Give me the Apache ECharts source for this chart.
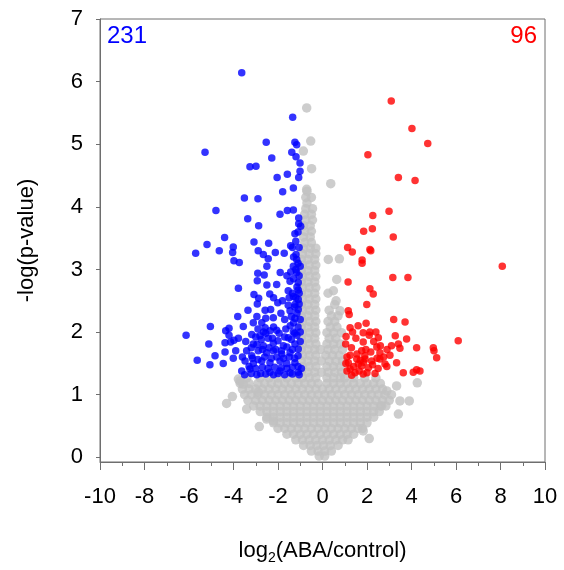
<!DOCTYPE html>
<html>
<head>
<meta charset="utf-8">
<script src="https://cdn.jsdelivr.net/npm/echarts@6/dist/echarts.min.js"></script>
<style>html,body{margin:0;padding:0;background:#fff}#c{width:564px;height:570px}</style>
</head>
<body>
<div id="c"></div>
<script>
// ---- data (log2 fold change, -log p) ----
const xTicks = [-10,-8,-6,-4,-2,0,2,4,6,8,10];
const yTicks = [0,1,2,3,4,5,6,7];
const countDown = "231";
const countUp = "96";

const grayPts = [
[-0.15,0.02],[0.1,0.02],
[-0.5,0.1],[-0.2,0.1],[0.1,0.1],[0.4,0.1],
[-0.85,0.19],[-0.55,0.19],[-0.25,0.19],[0.05,0.19],[0.35,0.19],[0.7,0.19],
[-1.2,0.28],[-0.9,0.28],[-0.6,0.28],[-0.3,0.28],[0.0,0.28],[0.3,0.28],[0.6,0.28],[0.9,0.28],[1.15,0.28],
[-1.6,0.37],[-1.3,0.37],[-1.0,0.37],[-0.7,0.37],[-0.4,0.37],[-0.1,0.37],[0.2,0.37],[0.5,0.37],[0.8,0.37],[1.1,0.37],[1.4,0.37],
[-2.0,0.46],[-1.7,0.46],[-1.4,0.46],[-1.1,0.46],[-0.8,0.46],[-0.5,0.46],[-0.2,0.46],[0.1,0.46],[0.4,0.46],[0.7,0.46],[1.0,0.46],[1.3,0.46],[1.6,0.46],[1.8,0.46],
[-2.2,0.55],[-1.9,0.55],[-1.6,0.55],[-1.3,0.55],[-1.0,0.55],[-0.7,0.55],[-0.4,0.55],[-0.1,0.55],[0.2,0.55],[0.5,0.55],[0.8,0.55],[1.1,0.55],[1.4,0.55],[1.7,0.55],[2.0,0.55],
[-2.5,0.64],[-2.2,0.64],[-1.9,0.64],[-1.6,0.64],[-1.3,0.64],[-1.0,0.64],[-0.7,0.64],[-0.4,0.64],[-0.1,0.64],[0.2,0.64],[0.5,0.64],[0.8,0.64],[1.1,0.64],[1.4,0.64],[1.7,0.64],[2.0,0.64],[2.3,0.64],
[-2.8,0.73],[-2.5,0.73],[-2.2,0.73],[-1.9,0.73],[-1.6,0.73],[-1.3,0.73],[-1.0,0.73],[-0.7,0.73],[-0.4,0.73],[-0.1,0.73],[0.2,0.73],[0.5,0.73],[0.8,0.73],[1.1,0.73],[1.4,0.73],[1.7,0.73],[2.0,0.73],[2.3,0.73],[2.55,0.73],
[-3.1,0.82],[-2.8,0.82],[-2.5,0.82],[-2.2,0.82],[-1.9,0.82],[-1.6,0.82],[-1.3,0.82],[-1.0,0.82],[-0.7,0.82],[-0.4,0.82],[-0.1,0.82],[0.2,0.82],[0.5,0.82],[0.8,0.82],[1.1,0.82],[1.4,0.82],[1.7,0.82],[2.0,0.82],[2.3,0.82],[2.6,0.82],[2.85,0.82],
[-3.35,0.91],[-3.0,0.91],[-2.7,0.91],[-2.4,0.91],[-2.1,0.91],[-1.8,0.91],[-1.5,0.91],[-1.2,0.91],[-0.9,0.91],[-0.6,0.91],[-0.3,0.91],[0.0,0.91],[0.3,0.91],[0.6,0.91],[0.9,0.91],[1.2,0.91],[1.5,0.91],[1.8,0.91],[2.1,0.91],[2.4,0.91],[2.7,0.91],[3.0,0.91],
[-3.5,1.0],[-3.2,1.0],[-2.9,1.0],[-2.6,1.0],[-2.3,1.0],[-2.0,1.0],[-1.7,1.0],[-1.4,1.0],[-1.1,1.0],[-0.8,1.0],[-0.5,1.0],[-0.2,1.0],[0.1,1.0],[0.4,1.0],[0.7,1.0],[1.0,1.0],[1.3,1.0],[1.6,1.0],[1.9,1.0],[2.2,1.0],[2.5,1.0],[2.8,1.0],[3.1,1.0],
[-3.6,1.09],[-3.3,1.09],[-3.0,1.09],[-2.7,1.09],[-2.4,1.09],[-2.1,1.09],[-1.8,1.09],[-1.5,1.09],[-1.2,1.09],[-0.9,1.09],[-0.6,1.09],[-0.3,1.09],[0.0,1.09],[0.3,1.09],[0.6,1.09],[0.9,1.09],[1.2,1.09],[1.5,1.09],[1.8,1.09],[2.1,1.09],[2.4,1.09],[2.7,1.09],
[-3.7,1.18],[-3.3,1.18],[-2.9,1.18],[-2.6,1.18],[-2.3,1.18],[-2.0,1.18],[-1.7,1.18],[-1.4,1.18],[-1.1,1.18],[-0.8,1.18],[-0.5,1.18],[-0.2,1.18],[0.2,1.18],[0.5,1.18],[0.8,1.18],[1.1,1.18],[1.4,1.18],[1.7,1.18],[2.0,1.18],[2.3,1.18],[2.6,1.18],
[-3.4,1.27],[-2.8,1.27],[-2.4,1.27],[-2.0,1.27],[-1.6,1.27],[-1.2,1.27],[-0.9,1.27],[-0.6,1.27],[-0.3,1.27],[0.2,1.27],[0.5,1.27],[0.8,1.27],[1.0,1.27],[1.4,1.27],[1.9,1.27],[2.4,1.27],
[-0.95,1.36],[-0.65,1.36],[-0.35,1.36],[-0.05,1.36],[0.25,1.36],[0.55,1.36],[0.85,1.36],
[-0.9,1.45],[-0.6,1.45],[-0.3,1.45],[0.2,1.45],[0.5,1.45],[0.8,1.45],
[-0.95,1.54],[-0.65,1.54],[-0.35,1.54],[-0.05,1.54],[0.3,1.54],[0.6,1.54],[0.9,1.54],
[-0.9,1.63],[-0.6,1.63],[-0.3,1.63],[0.15,1.63],[0.45,1.63],[0.75,1.63],
[-0.95,1.72],[-0.65,1.72],[-0.35,1.72],[-0.1,1.72],[0.25,1.72],[0.55,1.72],[0.9,1.72],
[-0.9,1.81],[-0.6,1.81],[-0.3,1.81],[0.2,1.81],[0.5,1.81],[0.8,1.81],
[-0.95,1.9],[-0.65,1.9],[-0.35,1.9],[0.3,1.9],[0.6,1.9],
[-0.9,1.99],[-0.6,1.99],[-0.3,1.99],[0.2,1.99],[0.5,1.99],[0.85,1.99],
[-0.95,2.08],[-0.65,2.08],[-0.35,2.08],[0.35,2.08],[0.65,2.08],
[-0.9,2.17],[-0.6,2.17],[-0.3,2.17],[0.25,2.17],[0.55,2.17],
[-0.95,2.26],[-0.65,2.26],[-0.35,2.26],[0.4,2.26],[0.7,2.26],
[-0.9,2.35],[-0.6,2.35],[-0.3,2.35],[0.3,2.35],
[-0.95,2.44],[-0.65,2.44],[-0.35,2.44],[0.55,2.44],
[-0.9,2.53],[-0.6,2.53],[-0.3,2.53],
[-0.95,2.62],[-0.65,2.62],[-0.35,2.62],[0.25,2.62],
[-0.9,2.71],[-0.6,2.71],[-0.3,2.71],
[-0.95,2.8],[-0.65,2.8],[-0.35,2.8],
[-0.9,2.89],[-0.6,2.89],[-0.3,2.89],
[-0.95,2.98],[-0.65,2.98],[-0.35,2.98],
[-0.9,3.07],[-0.6,3.07],[-0.3,3.07],
[-0.95,3.16],[-0.65,3.16],[-0.35,3.16],
[-0.9,3.25],[-0.6,3.25],[-0.3,3.25],
[-0.85,3.34],[-0.55,3.34],[-0.3,3.34],
[-0.8,3.43],[-0.5,3.43],
[-0.85,3.52],[-0.55,3.52],
[-0.8,3.61],[-0.5,3.61],
[-0.85,3.7],[-0.55,3.7],
[-0.75,3.79],[-0.45,3.79],
[-0.8,3.88],[-0.5,3.88],
[-0.75,3.97],[-0.45,3.97],
[-0.7,4.06],[-0.75,4.15],[-0.5,4.15],[-0.7,4.25],
[-0.71,5.58],[-0.53,5.05],[-0.86,4.89],[-0.49,4.61],[0.37,4.37],[-0.71,4.28],
[0.26,3.16],[0.76,3.17],[0.64,2.84],[0.49,2.66],[0.61,2.5],[0.79,2.34],
[-4.31,0.86],[-4.05,0.97],[-3.71,1.22],[-3.78,1.25],[-3.56,1.17],[-3.41,0.77],
[-2.84,0.49],[-2.51,0.61],[-2.21,0.58],[-2.89,1.04],
[3.9,0.9],[3.33,1.14],[4.26,1.19],[3.41,0.69],[2.1,0.3],[1.83,0.42],[2.89,1.06],[2.66,0.82],[3.48,0.9]
];

const bluePts = [
[-3.63,6.14],[-1.34,5.43],[-2.53,5.03],[-1.24,5.03],[-1.16,4.99],[-5.28,4.87],[-1.38,4.87],[-1.19,4.8],
[-2.28,4.78],[-1.01,4.7],[-3.26,4.64],[-2.99,4.65],[-1.01,4.57],[-1.58,4.52],[-2.04,4.47],[-1.07,4.47],
[-1.31,4.3],[-1.79,4.24],[-3.51,4.14],[-2.9,4.13],[-4.79,3.94],[-1.91,3.88],[-1.58,3.94],[-1.31,3.95],
[-1.07,3.82],[-3.36,3.81],[-2.87,3.7],[-1.07,3.73],[-0.98,3.69],
[-1.24,3.57],[-4.4,3.51],[-5.19,3.4],[-3.08,3.44],[-2.42,3.42],[-1.43,3.38],[-5.7,3.26],[-4.64,3.3],
[-4.01,3.36],[-4.04,3.27],[-2.89,3.3],[-2.66,3.24],[-2.44,3.17],[-2.12,3.27],[-1.72,3.26],[-1.19,3.24],
[-3.98,3.14],[-3.74,3.11],[-1.16,3.16],[-1.31,3.05],[-2.91,2.94],[-2.62,2.91],[-2.93,2.82],[-1.43,2.96],
[-1.16,2.95],[-1.46,2.81],[-1.09,2.79],[-2.06,2.76],[-3.78,2.7],[-1.54,2.66],[-1.09,2.67],[-3.08,2.6],
[-2.87,2.54],[-2.37,2.61],[-1.31,2.57],[-1.09,2.52],[-2.93,2.45],[-2.01,2.47],[-1.54,2.43],[-1.24,2.44],
[-1.09,2.36],[-2.58,2.35],[-2.33,2.36],[-1.46,2.34],[-1.87,2.3],[-2.21,2.23],[-3.81,2.25],[-1.24,2.22],
[-3.11,2.15],[-2.73,2.15],[-2.58,2.07],[-5.04,2.09],[-4.2,2.06],[-4.35,2.02],[-3.56,2.09],[-2.36,2.02],
[-2.06,2.03],[-1.31,2.0],[-6.13,1.95],[-3.78,1.9],[-3.98,1.87],[-3.18,1.96],[-2.81,1.94],[-2.44,1.9],
[-1.54,1.91],[-4.38,1.83],[-4.13,1.84],[-5.11,1.81],[-3.11,1.81],[-2.66,1.78],[-2.21,1.82],[-1.76,1.78],
[-1.24,1.81],[-4.38,1.68],[-4.83,1.62],[-4.01,1.58],[-3.41,1.7],[-3.18,1.62],[-2.89,1.7],[-2.51,1.67],
[-2.21,1.7],[-1.83,1.65],[-1.46,1.67],[-1.09,1.73],[-5.63,1.55],[-5.06,1.48],[-4.46,1.5],[-3.48,1.54],
[-3.11,1.5],[-2.73,1.54],[-2.36,1.51],[-1.91,1.54],[-1.61,1.5],[-1.24,1.51],[-3.63,1.38],[-3.26,1.41],
[-2.78,1.34],[-2.36,1.36],[-1.91,1.38],[-1.46,1.35],[-1.09,1.36],
[-3.3,1.45],[-3.0,1.42],[-2.7,1.44],[-2.45,1.42],[-2.15,1.44],[-1.85,1.43],[-1.6,1.42],[-1.35,1.44],[-1.1,1.45],
[-3.15,1.58],[-2.9,1.56],[-2.6,1.6],[-2.3,1.58],[-2.05,1.6],[-1.75,1.58],[-1.5,1.6],[-1.25,1.58],
[-3.2,1.75],[-2.95,1.8],[-2.7,1.72],[-2.4,1.75],[-2.1,1.72],[-1.85,1.7],[-1.6,1.76],[-1.35,1.72],[-1.1,1.62],
[-3.0,1.92],[-2.75,1.88],[-2.55,1.98],[-2.25,1.9],[-2.0,1.86],[-1.7,1.92],[-1.4,1.88],[-1.15,1.95],
[-2.9,2.05],[-2.65,2.0],[-2.2,2.08],[-1.95,1.98],[-1.65,2.05],[-1.45,2.1],[-1.1,2.08],
[-2.95,2.25],[-2.55,2.22],[-1.7,2.2],[-1.4,2.25],[-1.15,2.3],
[-3.5,1.32],[-3.2,1.34],[-2.95,1.32],[-2.55,1.33],[-2.2,1.32],[-2.0,1.34],[-1.7,1.32],[-1.35,1.33],[-1.05,1.32],[-0.95,1.42],
[-1.05,2.45],[-1.2,2.55],[-1.05,2.62],[-1.15,2.72],[-1.3,2.85],[-1.05,2.9],[-1.2,3.0],[-1.1,3.1],[-1.3,3.2],
[-1.05,3.35],[-1.2,3.45],[-1.1,3.6],[-1.25,2.4],[-1.0,2.2],[-1.3,2.15],[-1.0,2.0],[-1.25,1.98],[-1.0,1.85],
[-1.35,2.62],[-1.5,2.55],[-1.6,2.9],[-1.35,3.35],[-1.0,3.05],
[-3.6,1.6],[-3.45,1.85],[-3.9,1.7],[-4.2,1.95],[-3.35,2.35],[-2.5,2.75],[-2.2,2.55],[-1.8,2.5],[-1.9,2.95],[-2.5,3.05]
];

const redPts = [
[3.09,5.69],[4.02,5.25],[4.73,5.01],[2.04,4.83],[3.41,4.47],[4.16,4.42],[2.99,3.93],[2.26,3.86],
[2.24,3.65],[1.85,3.61],[3.18,3.52],[1.13,3.35],[2.13,3.32],[1.34,3.28],[2.17,3.3],[1.78,3.15],
[1.78,3.1],[8.08,3.05],[3.16,2.87],[3.84,2.87],[1.15,2.8],[2.13,2.69],[2.28,2.61],[1.99,2.44],
[1.16,2.34],[1.2,2.28],[3.2,2.2],[3.71,2.16],[1.96,2.14],[1.24,2.07],[1.83,1.99],[2.13,2.0],
[2.51,1.91],[3.27,1.94],[3.78,1.89],[6.1,1.86],[1.06,1.93],[1.83,1.84],[2.44,1.76],[3.41,1.81],
[3.48,1.74],[4.23,1.75],[4.98,1.75],[5.01,1.7],[1.04,1.81],[1.76,1.7],[2.17,1.68],[2.58,1.67],
[3.03,1.63],[5.13,1.59],[1.24,1.63],[1.54,1.57],[1.91,1.57],[2.21,1.54],[2.58,1.57],[2.81,1.49],
[3.33,1.51],[1.76,1.46],[2.06,1.43],[1.24,1.41],[1.46,1.35],[1.83,1.33],[2.36,1.34],[2.89,1.45],
[3.63,1.35],[4.08,1.36],[4.23,1.4],[4.38,1.38],[1.31,1.31],[1.16,1.51],[1.61,1.49],
[1.3,1.75],[1.5,1.9],[1.7,1.55],[1.95,1.72],[2.3,1.85],[2.6,1.78],[1.4,1.45],[1.65,1.38],[2.0,1.35],
[2.25,1.48],[2.5,1.42],[2.75,1.6],[1.1,1.6],[1.1,1.38],[1.55,1.65],[1.85,1.52],[2.1,1.95],[2.4,2.0],
[3.1,1.78],[2.9,1.72],[1.35,2.0],[1.6,2.1],[1.05,1.5],[1.9,1.62],[2.45,1.58]
];

const FONT = '"Liberation Sans", Arial, sans-serif';
const chart = echarts.init(document.getElementById('c'), null, {renderer: 'canvas'});
chart.setOption({
  animation: false,
  backgroundColor: '#fff',
  grid: {left: 100, right: 19, top: 19, bottom: 107, show: true, borderColor: '#6e6e6e', borderWidth: 1},
  xAxis: {
    type: 'value', min: xTicks[0], max: xTicks[xTicks.length-1], interval: 2,
    name: '{a|log}{s|2}{a|(ABA/control)}', nameLocation: 'middle', nameGap: 75,
    nameTextStyle: {rich: {a: {fontSize: 22, fontFamily: FONT, color: '#000'}, s: {fontSize: 14, fontFamily: FONT, color: '#000', padding: [14,0,0,0]}}},
    axisLine: {show: true, onZero: false, lineStyle: {color: '#6e6e6e', width: 1}},
    axisTick: {show: true, inside: false, length: 8, lineStyle: {color: '#6e6e6e'}},
    minorTick: {show: true, splitNumber: 2, length: 4, lineStyle: {color: '#6e6e6e'}},
    axisLabel: {fontSize: 22, fontFamily: FONT, color: '#000', margin: 24},
    splitLine: {show: false}
  },
  yAxis: {
    type: 'value', min: -0.075, max: 7,
    name: '-log(p-value)', nameLocation: 'middle', nameGap: 62, nameRotate: 90,
    nameTextStyle: {fontSize: 22, fontFamily: FONT, color: '#000'},
    axisLine: {show: true, onZero: false, lineStyle: {color: '#6e6e6e', width: 1}},
    axisTick: {show: true, inside: false, length: 4, customValues: yTicks, lineStyle: {color: '#6e6e6e'}},
    axisLabel: {fontSize: 22, fontFamily: FONT, color: '#000', margin: 17, customValues: yTicks},
    splitLine: {show: false}
  },
  graphic: [
    {type: 'text', left: 107, top: 24, style: {text: countDown, fontSize: 24, fontFamily: FONT, fill: '#0000ff'}},
    {type: 'text', right: 27, top: 24, style: {text: countUp, fontSize: 24, fontFamily: FONT, fill: '#ff0000'}}
  ],
  series: [
    {type: 'scatter', data: grayPts, symbol: 'circle', symbolSize: 9.5, itemStyle: {color: '#c0c0c0'}, silent: true},
    {type: 'scatter', data: bluePts, symbol: 'circle', symbolSize: 7.5, itemStyle: {color: '#0000ff'}, silent: true},
    {type: 'scatter', data: redPts, symbol: 'circle', symbolSize: 7.5, itemStyle: {color: '#ff0000'}, silent: true}
  ]
});
</script>
</body>
</html>
